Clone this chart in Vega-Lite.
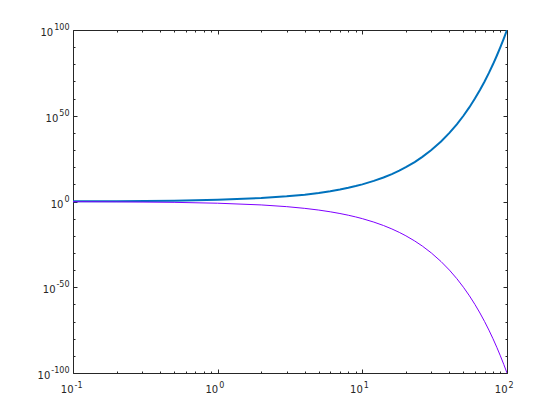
{
  "$schema": "https://vega.github.io/schema/vega-lite/v6.json",
  "width": 434,
  "height": 343,
  "autosize": {"type": "none"},
  "padding": {"left": 73, "top": 30, "right": 53, "bottom": 47},
  "background": "white",
  "config": {
    "view": {"stroke": null},
    "axis": {"labelFont": "DejaVu Sans", "labelFontSize": 10, "labelColor": "#262626", "domainColor": "#262626", "tickColor": "#262626", "grid": false, "title": null, "domainWidth": 1, "tickWidth": 1, "labelFlush": false, "labelOverlap": false, "labelBound": false}
  },
  "data": {"values": [
    {"x": 0.1, "y": 1.2589, "s": "up"},
    {"x": 0.2, "y": 1.5849, "s": "up"},
    {"x": 0.5, "y": 3.1623, "s": "up"},
    {"x": 1, "y": 10, "s": "up"},
    {"x": 2, "y": 100, "s": "up"},
    {"x": 3, "y": 1e3, "s": "up"},
    {"x": 4, "y": 1e4, "s": "up"},
    {"x": 5, "y": 1e5, "s": "up"},
    {"x": 6, "y": 1e6, "s": "up"},
    {"x": 7, "y": 1e7, "s": "up"},
    {"x": 8, "y": 1e8, "s": "up"},
    {"x": 9, "y": 1e9, "s": "up"},
    {"x": 10, "y": 1e10, "s": "up"},
    {"x": 12, "y": 1e12, "s": "up"},
    {"x": 14, "y": 1e14, "s": "up"},
    {"x": 16, "y": 1e16, "s": "up"},
    {"x": 18, "y": 1e18, "s": "up"},
    {"x": 20, "y": 1e20, "s": "up"},
    {"x": 23, "y": 1e23, "s": "up"},
    {"x": 26, "y": 1e26, "s": "up"},
    {"x": 30, "y": 1e30, "s": "up"},
    {"x": 35, "y": 1e35, "s": "up"},
    {"x": 40, "y": 1e40, "s": "up"},
    {"x": 45, "y": 1e45, "s": "up"},
    {"x": 50, "y": 1e50, "s": "up"},
    {"x": 55, "y": 1e55, "s": "up"},
    {"x": 60, "y": 1e60, "s": "up"},
    {"x": 65, "y": 1e65, "s": "up"},
    {"x": 70, "y": 1e70, "s": "up"},
    {"x": 75, "y": 1e75, "s": "up"},
    {"x": 80, "y": 1e80, "s": "up"},
    {"x": 85, "y": 1e85, "s": "up"},
    {"x": 90, "y": 1e90, "s": "up"},
    {"x": 95, "y": 1e95, "s": "up"},
    {"x": 100, "y": 1e100, "s": "up"},
    {"x": 0.1, "y": 0.7943, "s": "down"},
    {"x": 0.2, "y": 0.631, "s": "down"},
    {"x": 0.5, "y": 0.3162, "s": "down"},
    {"x": 1, "y": 0.1, "s": "down"},
    {"x": 2, "y": 1e-2, "s": "down"},
    {"x": 3, "y": 1e-3, "s": "down"},
    {"x": 4, "y": 1e-4, "s": "down"},
    {"x": 5, "y": 1e-5, "s": "down"},
    {"x": 6, "y": 1e-6, "s": "down"},
    {"x": 7, "y": 1e-7, "s": "down"},
    {"x": 8, "y": 1e-8, "s": "down"},
    {"x": 9, "y": 1e-9, "s": "down"},
    {"x": 10, "y": 1e-10, "s": "down"},
    {"x": 12, "y": 1e-12, "s": "down"},
    {"x": 14, "y": 1e-14, "s": "down"},
    {"x": 16, "y": 1e-16, "s": "down"},
    {"x": 18, "y": 1e-18, "s": "down"},
    {"x": 20, "y": 1e-20, "s": "down"},
    {"x": 23, "y": 1e-23, "s": "down"},
    {"x": 26, "y": 1e-26, "s": "down"},
    {"x": 30, "y": 1e-30, "s": "down"},
    {"x": 35, "y": 1e-35, "s": "down"},
    {"x": 40, "y": 1e-40, "s": "down"},
    {"x": 45, "y": 1e-45, "s": "down"},
    {"x": 50, "y": 1e-50, "s": "down"},
    {"x": 55, "y": 1e-55, "s": "down"},
    {"x": 60, "y": 1e-60, "s": "down"},
    {"x": 65, "y": 1e-65, "s": "down"},
    {"x": 70, "y": 1e-70, "s": "down"},
    {"x": 75, "y": 1e-75, "s": "down"},
    {"x": 80, "y": 1e-80, "s": "down"},
    {"x": 85, "y": 1e-85, "s": "down"},
    {"x": 90, "y": 1e-90, "s": "down"},
    {"x": 95, "y": 1e-95, "s": "down"},
    {"x": 100, "y": 1e-100, "s": "down"}
  ]},
  "layer": [
    {
      "mark": {"type": "line", "clip": true},
      "encoding": {
        "x": {"field": "x", "type": "quantitative", "scale": {"type": "log", "domain": [0.1, 100], "nice": false},
          "axis": {"orient": "bottom", "values": [0.1,0.2,0.3,0.4,0.5,0.6,0.7,0.8,0.9,1,2,3,4,5,6,7,8,9,10,20,30,40,50,60,70,80,90,100],
            "labelExpr": "(datum.value < 0.11 && datum.value > 0.09) || datum.value == 1 || datum.value == 10 || datum.value == 100 ? '10' : ''",
            "tickSize": {"condition": {"test": "datum.value == 1 || datum.value == 10 || (datum.value > 0.09 && datum.value < 0.11) || datum.value == 100", "value": -4}, "value": -2},
            "labelAlign": "right", "labelBaseline": "alphabetic", "labelPadding": 23}},
        "y": {"field": "y", "type": "quantitative", "scale": {"type": "log", "domain": [1e-100, 1e100], "nice": false},
          "axis": {"orient": "left", "values": [1e-100,1e-90,1e-80,1e-70,1e-60,1e-50,1e-40,1e-30,1e-20,1e-10,1,1e10,1e20,1e30,1e40,1e50,1e60,1e70,1e80,1e90,1e100],
            "labelExpr": "abs(log(datum.value)/LN10) % 50 < 0.01 ? '10' : ''",
            "tickSize": {"condition": {"test": "abs(log(datum.value)/LN10) % 50 < 0.01", "value": -4}, "value": -2},
            "labelAlign": "right", "labelBaseline": "middle", "labelOffset": 2.5,
            "labelPadding": {"condition": [
              {"test": "datum.value > 1e99", "value": 24.3},
              {"test": "datum.value > 1e49", "value": 19.2},
              {"test": "datum.value > 1e-1", "value": 14.1},
              {"test": "datum.value > 1e-51", "value": 22}
            ], "value": 27.2}}},
        "color": {"field": "s", "type": "nominal", "scale": {"domain": ["up", "down"], "range": ["#0072BD", "#7F00FF"]}, "legend": null},
        "strokeWidth": {"field": "s", "type": "nominal", "scale": {"domain": ["up", "down"], "range": [2, 1]}, "legend": null}
      }
    },
    {
      "mark": {"type": "point", "opacity": 0},
      "encoding": {
        "x": {"field": "x", "type": "quantitative", "scale": {"type": "log", "domain": [0.1, 100], "nice": false},
          "axis": {"orient": "top", "values": [0.1,0.2,0.3,0.4,0.5,0.6,0.7,0.8,0.9,1,2,3,4,5,6,7,8,9,10,20,30,40,50,60,70,80,90,100], "labels": false,
            "tickSize": {"condition": {"test": "datum.value == 1 || datum.value == 10 || (datum.value > 0.09 && datum.value < 0.11) || datum.value == 100", "value": -4}, "value": -2}}},
        "y": {"field": "y", "type": "quantitative", "scale": {"type": "log", "domain": [1e-100, 1e100], "nice": false},
          "axis": {"orient": "right", "values": [1e-100,1e-90,1e-80,1e-70,1e-60,1e-50,1e-40,1e-30,1e-20,1e-10,1,1e10,1e20,1e30,1e40,1e50,1e60,1e70,1e80,1e90,1e100], "labels": false,
            "tickSize": {"condition": {"test": "abs(log(datum.value)/LN10) % 50 < 0.01", "value": -4}, "value": -2}}}
      }
    },
    {
      "mark": {"type": "point", "opacity": 0},
      "encoding": {
        "x": {"field": "x", "type": "quantitative", "scale": {"type": "log", "domain": [0.1, 100], "nice": false},
          "axis": {"orient": "bottom", "values": [0.1, 1, 10, 100], "ticks": false, "domain": false,
            "labelExpr": "datum.value < 0.5 ? '-1' : datum.value == 1 ? '0' : datum.value == 10 ? '1' : '2'",
            "labelFontSize": 8, "labelAlign": "left", "labelBaseline": "alphabetic", "labelPadding": 14, "labelOffset": 1}},
        "y": {"field": "y", "type": "quantitative", "scale": {"type": "log", "domain": [1e-100, 1e100], "nice": false},
          "axis": {"orient": "left", "values": [1e-100, 1e-50, 1, 1e50, 1e100], "ticks": false, "domain": false,
            "labelExpr": "datum.value == 1e100 ? '100' : datum.value == 1e50 ? '50' : datum.value == 1 ? '0' : datum.value == 1e-50 ? '-50' : '-100'",
            "labelFontSize": 8, "labelAlign": "right", "labelBaseline": "middle", "labelPadding": 4, "labelOffset": -2.5}}
      }
    }
  ],
  "resolve": {"axis": {"x": "independent", "y": "independent"}}
}
